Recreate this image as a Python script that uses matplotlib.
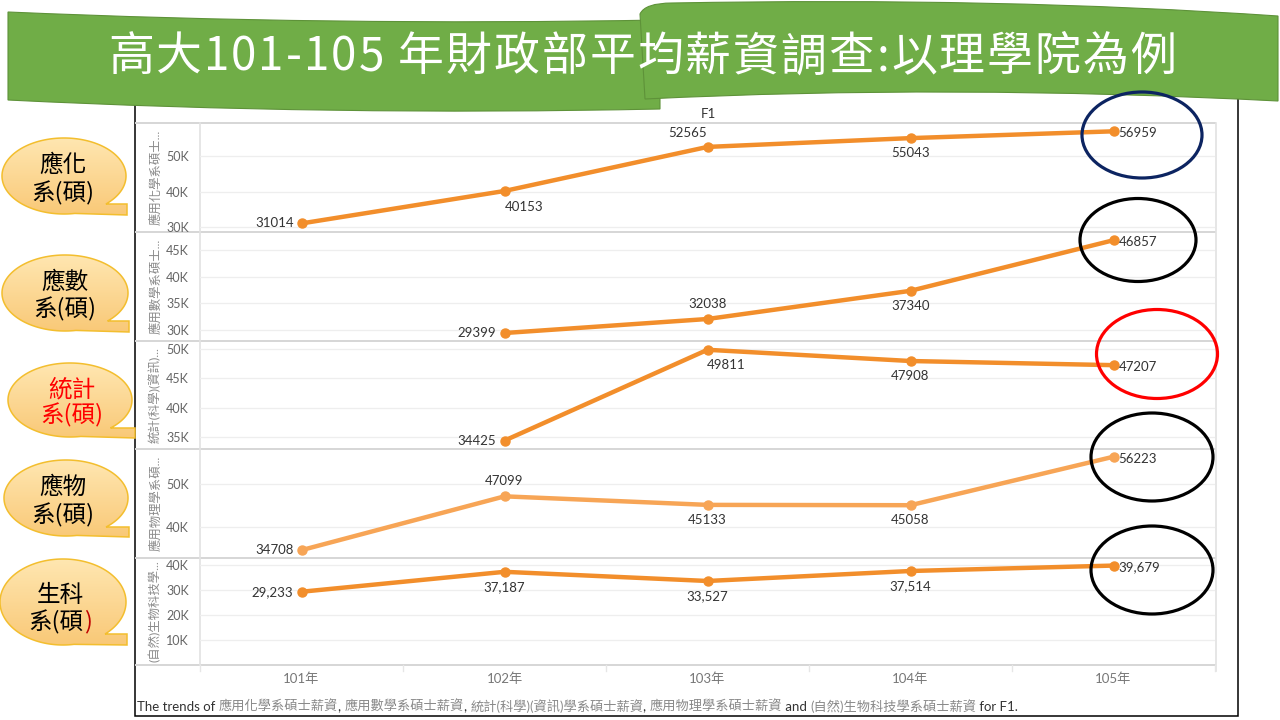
import matplotlib
matplotlib.use('Agg')
import matplotlib.pyplot as plt
import numpy as np
from matplotlib.patches import Ellipse, PathPatch, Rectangle
from matplotlib.path import Path
from matplotlib.offsetbox import TextArea, HPacker, AnnotationBbox
from matplotlib.ticker import FuncFormatter, FixedLocator

plt.rcParams['font.family'] = ['Lato', 'Noto Sans CJK TC', 'DejaVu Sans']

# ---------------- data ----------------
title = '高大101-105 年財政部平均薪資調查:以理學院為例'
years = ['101年', '102年', '103年', '104年', '105年']
chem = [31014, 40153, 52565, 55043, 56959]
math_ = [None, 29399, 32038, 37340, 46857]
stat = [None, 34425, 49811, 47908, 47207]
phys = [34708, 47099, 45133, 45058, 56223]
bio = [29233, 37187, 33527, 37514, 39679]
series = [chem, math_, stat, phys, bio]
row_names = ['應用化學系碩士...', '應用數學系碩士...', '統計(科學)(資訊)...',
             '應用物理學系碩...', '(自然)生物科技學...']
row_ticks = [[30000, 40000, 50000],
             [30000, 35000, 40000, 45000],
             [35000, 40000, 45000, 50000],
             [40000, 50000],
             [10000, 20000, 30000, 40000]]
use_comma = [False, False, False, False, True]
callout_top = ['應化', '應數', '統計', '應物', '生科']
callout_bottom = '系(碩)'
caption_parts = [('The trends of ', 0), ('應用化學系碩士薪資', 1), (', ', 0),
                 ('應用數學系碩士薪資', 1), (', ', 0), ('統計(科學)(資訊)學系碩士薪資', 1),
                 (', ', 0), ('應用物理學系碩士薪資', 1), (' and ', 0),
                 ('(自然)生物科技學系碩士薪資', 1), (' for F1.', 0)]
sheet_name = 'F1'

# ---------------- style ----------------
W, H = 1280, 720
row_edges = [123, 232, 341, 449, 558, 665]
plot_x0, plot_x1 = 200, 1215
ylims = [(28600, 59300), (27900, 48400), (33000, 51300), (32900, 58000), (0, 42700)]
line_colors = ['#F28E2B', '#F28E2B', '#F28E2B', '#F7A556', '#F28E2B']
# label offsets in pixels (dx, dy screen-down, ha)
L = (-8, 0, 'right'); R = (5, 2, 'left'); A = (0, -15, 'center'); B = (0, 15, 'center')
label_offsets = [
    [L, (20, 16, 'center'), (-20, -14, 'center'), B, R],
    [None, L, A, B, R],
    [None, L, (19, 15, 'center'), B, R],
    [L, A, B, B, R],
    [L, B, B, B, R],
]
bubbles = [  # cx, cy, a, b, tail_x, tail_top, tail_bot, text_x, text_y1, text_y2, color
    (64, 176, 62, 38, 127, 204, 215, 63, 165, 193, '#000000'),
    (65, 293, 63, 38, 129, 321, 332, 65, 282, 309, '#000000'),
    (70, 400, 62, 37, 135, 428, 438, 72, 390, 415, '#FF0000'),
    (66, 498, 62, 38, 129, 527, 537, 63, 487, 515, '#000000'),
    (63, 602, 63, 43, 127, 634, 645, 60, 595, 622, '#000000'),
]
circles = [(1142, 135, 120, 86, '#0C2461'), (1138, 240, 116, 83, '#000000'),
           (1157, 354, 121, 89, '#FF0000'), (1152, 457, 122, 88, '#000000'),
           (1152, 570, 122, 88, '#000000')]

fig = plt.figure(figsize=(12.8, 7.2), dpi=100)
fig.patch.set_facecolor('white')


def fx(x):
    return x / W


def fy(y):
    return 1 - y / H


# background overlay
bg = fig.add_axes([0, 0, 1, 1], zorder=0)
bg.set_xlim(0, W); bg.set_ylim(H, 0); bg.axis('off')
bg.add_patch(Rectangle((135, 90), 1238 - 135, 716 - 90, fill=False, ec='black', lw=1.1))
for y in row_edges:
    bg.plot([135, 1216], [y, y], color='#d6d6d6', lw=1.4, solid_capstyle='butt')
bg.plot([plot_x0, plot_x0], [row_edges[0], row_edges[-1]], color='#e2e2e2', lw=1.2)
bg.plot([1216, 1216], [row_edges[0], row_edges[-1] + 6], color='#e2e2e2', lw=1.2)
for k in range(6):
    xx = plot_x0 + k * (plot_x1 - plot_x0) / 5
    bg.plot([xx, xx], [row_edges[-1], row_edges[-1] + 6], color='#e6e6e6', lw=1)

# chart rows
for r in range(5):
    y_top, y_bot = row_edges[r], row_edges[r + 1]
    ax = fig.add_axes([fx(plot_x0), fy(y_bot), (plot_x1 - plot_x0) / W, (y_bot - y_top) / H], zorder=1)
    ax.set_facecolor('none')
    for s in ax.spines.values():
        s.set_visible(False)
    vals = np.array([np.nan if v is None else v for v in series[r]], dtype=float)
    xs = np.arange(len(years))
    ax.plot(xs, vals, color=line_colors[r], lw=3.2, marker='o', ms=6.5,
            solid_capstyle='round', zorder=3)
    ax.set_xlim(-0.5, 4.5)
    ax.set_ylim(*ylims[r])
    ax.yaxis.set_major_locator(FixedLocator(row_ticks[r]))
    ax.yaxis.set_major_formatter(FuncFormatter(lambda v, p: f'{v/1000:.0f}K'))
    ax.set_xticks([])
    ax.tick_params(axis='y', length=0, labelsize=9, labelcolor='#666666', pad=8)
    ax.yaxis.grid(True, color='#eeeeee', lw=0.9)
    ax.set_axisbelow(True)
    for i, v in enumerate(series[r]):
        if v is None:
            continue
        dx, dy, ha = label_offsets[r][i]
        txt = f'{v:,}' if use_comma[r] else f'{v}'
        ax.annotate(txt, (i, v), xytext=(dx, -dy), textcoords='offset pixels',
                    ha=ha, va='center', fontsize=9.5, color='#333333', zorder=4)
    fig.text(fx(155), fy((y_top + y_bot) / 2), row_names[r], rotation=90,
             ha='center', va='center', fontsize=8.9, color='#8a8a8a')

# x labels
for i, lab in enumerate(years):
    xx = plot_x0 + (i + 0.5) * (plot_x1 - plot_x0) / 5
    fig.text(fx(xx), fy(679), lab, ha='center', va='center', fontsize=9.5, color='#777777')

fig.text(fx(708), fy(114), sheet_name, ha='center', va='center', fontsize=9.5, color='#333333')

# foreground overlay
fg = fig.add_axes([0, 0, 1, 1], zorder=5)
fg.set_facecolor('none')
fg.set_xlim(0, W); fg.set_ylim(H, 0); fg.axis('off')

# banner
green = '#70AD47'
left_piece = Path([(8, 12), (330, 26), (660, 20), (660, 109), (330, 116), (8, 100), (8, 12)],
                  [Path.MOVETO, Path.CURVE3, Path.CURVE3, Path.LINETO, Path.CURVE3, Path.CURVE3, Path.CLOSEPOLY])
right_piece = Path([(640, 14), (645, 3), (672, 3), (1000, -3), (1278, 16), (1278, 101),
                    (950, 84), (645, 99), (640, 14)],
                   [Path.MOVETO, Path.CURVE3, Path.CURVE3, Path.CURVE3, Path.CURVE3, Path.LINETO,
                    Path.CURVE3, Path.CURVE3, Path.CLOSEPOLY])
fg.add_patch(PathPatch(left_piece, fc=green, ec='#5E9239', lw=0.8))
fg.add_patch(PathPatch(right_piece, fc=green, ec='#5E9239', lw=0.8))
title_areas = [TextArea(ch, textprops=dict(fontsize=33, color='white', family=['Noto Sans CJK TC']))
               for ch in title]
title_box = HPacker(children=title_areas, pad=0, sep=1.4, align='baseline')
fg.add_artist(AnnotationBbox(title_box, (642, 57), frameon=False, box_alignment=(0.5, 0.5), pad=0))

# callout bubbles
grad = np.linspace(0, 1, 64).reshape(-1, 1)
c_top = np.array([255, 231, 178]) / 255
c_bot = np.array([249, 200, 118]) / 255
grad_img = c_top[None, None, :] * (1 - grad[:, :, None]) + c_bot[None, None, :] * grad[:, :, None]
for r, (cx, cy, a, b, tx, ttop, tbot, tx_c, ty1, ty2, col) in enumerate(bubbles):
    t1 = np.arcsin((ttop - cy) / b)
    t2 = np.deg2rad(80)
    ts = np.linspace(t1, t2 - 2 * np.pi, 240)
    pts = [(cx + a * np.cos(t), cy + b * np.sin(t)) for t in ts]
    pts += [(tx, tbot), (tx, ttop), pts[0]]
    codes = [Path.MOVETO] + [Path.LINETO] * (len(pts) - 2) + [Path.CLOSEPOLY]
    patch = PathPatch(Path(pts, codes), fc='none', ec='#F3BE2E', lw=1.1, zorder=3)
    im = fg.imshow(grad_img, extent=(cx - a - 2, tx + 2, tbot + 2, cy - b - 2),
                   aspect='auto', origin='upper', zorder=2)
    fg.add_patch(patch)
    im.set_clip_path(patch)
    fg.text(tx_c, ty1, callout_top[r], ha='center', va='center', fontsize=17, color=col,
            family=['Noto Sans CJK TC'], zorder=4)
    if r == 4:
        p1 = TextArea(callout_bottom[:-1], textprops=dict(fontsize=17, color=col, family=['Noto Sans CJK TC']))
        p2 = TextArea(callout_bottom[-1], textprops=dict(fontsize=17, color='#C00000', family=['Noto Sans CJK TC']))
        box = HPacker(children=[p1, p2], pad=0, sep=0, align='center')
        ab = AnnotationBbox(box, (tx_c, ty2), frameon=False, box_alignment=(0.5, 0.5), pad=0, zorder=4)
        fg.add_artist(ab)
    else:
        fg.text(tx_c, ty2, callout_bottom, ha='center', va='center', fontsize=17, color=col,
                family=['Noto Sans CJK TC'], zorder=4)

# highlight circles
for (cx, cy, w, h, col) in circles:
    fg.add_patch(Ellipse((cx, cy), w, h, fill=False, ec=col, lw=2.3, zorder=6))

# caption
areas = [TextArea(t, textprops=dict(fontsize=9.5, color=('#8a8a8a' if g else '#333333')))
         for t, g in caption_parts]
cap = HPacker(children=areas, pad=0, sep=0, align='baseline')
fg.add_artist(AnnotationBbox(cap, (137, 706), frameon=False, box_alignment=(0, 0.5), pad=0))

fg.set_xlim(0, W); fg.set_ylim(H, 0)
fig.savefig('out.png', dpi=100, facecolor='white')
